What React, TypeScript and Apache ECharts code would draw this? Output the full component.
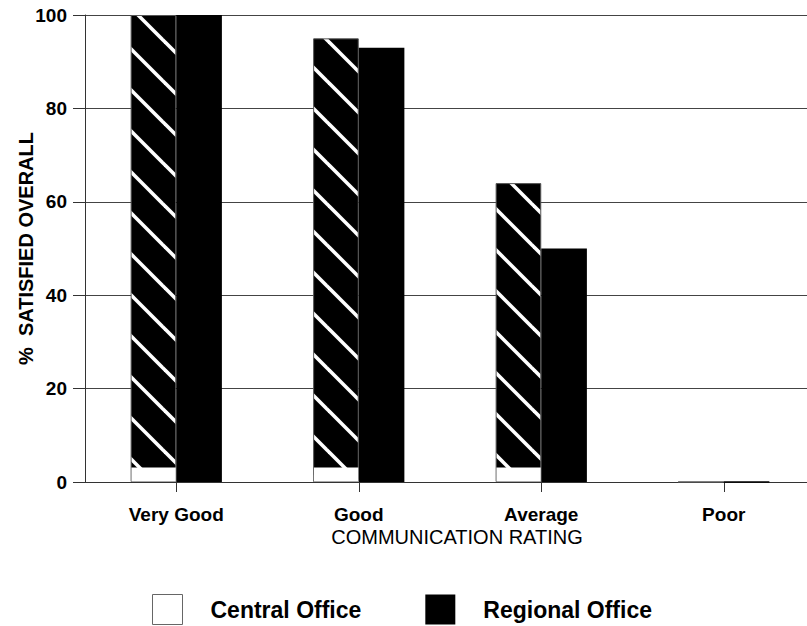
import React, { useEffect, useRef } from "react";
import * as echarts from "echarts";

const categories = ["Very Good", "Good", "Average", "Poor"];
const centralOffice = [100, 95, 64, 0];
const regionalOffice = [100, 93, 50, 0];
const yTicks = [0, 20, 40, 60, 80, 100];

const FONT = "'Liberation Sans', Arial, Helvetica, sans-serif";

function makeHatchTile(): HTMLCanvasElement {
  const P = 41;
  const c = document.createElement("canvas");
  c.width = P;
  c.height = P;
  const ctx = c.getContext("2d")!;
  ctx.fillStyle = "#000";
  ctx.fillRect(0, 0, P, P);
  ctx.strokeStyle = "#fff";
  ctx.lineWidth = 3.6;
  for (const off of [-P, 0, P]) {
    ctx.beginPath();
    ctx.moveTo(-P + off, -P);
    ctx.lineTo(2 * P + off, 2 * P);
    ctx.stroke();
  }
  return c;
}

export default function App() {
  const ref = useRef<HTMLDivElement>(null);
  useEffect(() => {
    document.body.style.margin = "0";
    document.body.style.overflow = "hidden";
    const chart = echarts.init(ref.current!, null, { renderer: "svg" });
    const tile = makeHatchTile();
    const hatch: any = {
      image: tile,
      repeat: "repeat",
      imageWidth: tile.width,
      imageHeight: tile.height,
    };
    chart.setOption({
      animation: false,
      backgroundColor: "#fff",
      textStyle: { fontFamily: FONT },
      grid: {
        left: 85,
        top: 15,
        width: 730,
        height: 467,
        containLabel: false,
        outerBoundsMode: "none",
      },
      legend: {
        left: 152,
        top: 594,
        padding: 0,
        itemWidth: 30,
        itemHeight: 30,
        itemGap: 64,
        icon: "rect",
        selectedMode: false,
        textStyle: { fontSize: 23, fontWeight: "bold", color: "#000", fontFamily: FONT, padding: [0, 0, 0, 23] },
        data: [
          { name: "Central Office", itemStyle: { color: "#fff", borderColor: "#666", borderWidth: 1 } },
          { name: "Regional Office", itemStyle: { color: "#000", borderColor: "#000", borderWidth: 0 } },
        ],
      },
      xAxis: {
        type: "category",
        data: categories,
        name: "COMMUNICATION RATING",
        nameLocation: "middle",
        nameGap: 48,
        nameMoveOverlap: false,
        nameTextStyle: { fontSize: 20, lineHeight: 14, color: "#000", fontFamily: FONT, padding: [0, 0, 0, 14] },
        axisLine: { show: true, lineStyle: { color: "#333", width: 1 } },
        axisTick: { show: true, alignWithLabel: true, length: 10, lineStyle: { color: "#333" } },
        axisLabel: { fontSize: 19, lineHeight: 14, fontWeight: "bold", color: "#000", margin: 25, fontFamily: FONT },
        splitLine: { show: false },
      },
      yAxis: {
        type: "value",
        min: 0,
        max: 100,
        interval: 20,
        name: "%  SATISFIED OVERALL",
        nameLocation: "middle",
        nameGap: 49,
        nameMoveOverlap: false,
        nameTextStyle: { fontSize: 20, fontWeight: "bold", color: "#000", fontFamily: FONT },
        axisLine: { show: true, lineStyle: { color: "#333", width: 1 } },
        axisTick: { show: true, length: 12, lineStyle: { color: "#333" } },
        axisLabel: {
          fontSize: 19,
          fontWeight: "bold",
          color: "#000",
          margin: 18,
          fontFamily: FONT,
          formatter: (v: number) => (yTicks.includes(v) ? String(v) : ""),
        },
        splitLine: { show: true, lineStyle: { color: "#444", width: 1 } },
      },
      series: [
        {
          name: "Central Office",
          type: "bar",
          data: centralOffice,
          barGap: "0%",
          barCategoryGap: "50%",
          itemStyle: { color: hatch, borderColor: "#555", borderWidth: 1 },
          z: 2,
        },
        {
          name: "Regional Office",
          type: "bar",
          data: regionalOffice,
          barGap: "0%",
          barCategoryGap: "50%",
          itemStyle: { color: "#000", borderColor: "#000", borderWidth: 1.5 },
          z: 2,
        },
        {
          name: "Central base",
          type: "custom",
          silent: true,
          z: 3,
          data: centralOffice.map((v, i) => [i, v]),
          encode: { x: 0, y: 1 },
          renderItem: (params: any, api: any) => {
            const idx = api.value(0);
            const v = api.value(1);
            if (!(v > 0)) return { type: "group", children: [] };
            const base = api.coord([idx, 0]);
            const band = api.size([1, 0])[0];
            const w = band * 0.25;
            return {
              type: "rect",
              shape: { x: base[0] - w + 0.8, y: base[1] - 14.5, width: w - 1.3, height: 14 },
              style: { fill: "#fff" },
            };
          },
        },
      ],
    });
    return () => chart.dispose();
  }, []);
  return (
    <div
      ref={ref}
      style={{ position: "absolute", left: 0, top: 0, width: 830, height: 626 }}
    />
  );
}
